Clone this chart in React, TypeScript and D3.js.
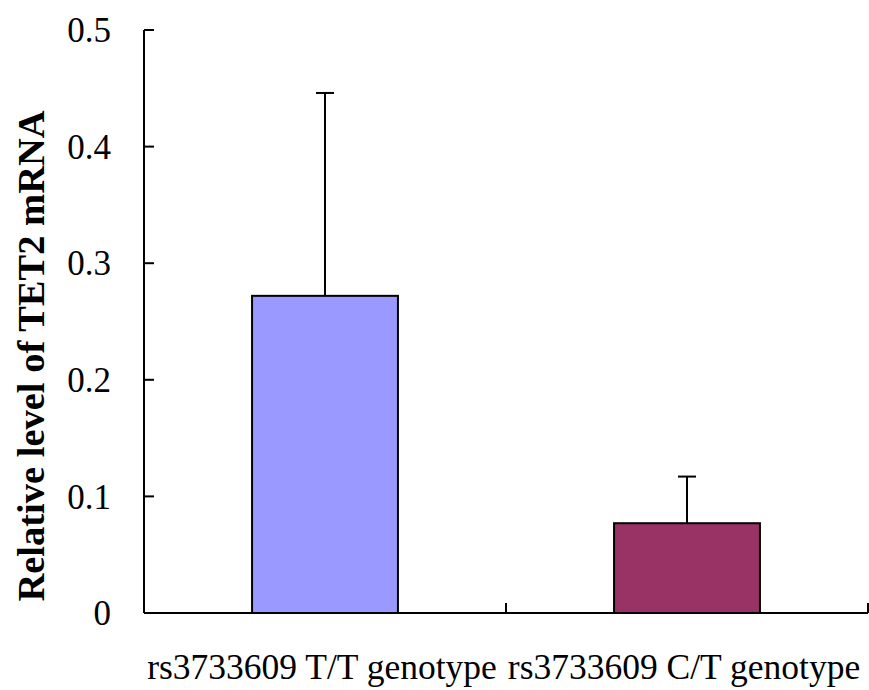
import React, { useEffect, useRef } from "react";
import * as d3 from "d3";

// genotype groups and measured means / upper error
const categories = ["rs3733609 T/T genotype", "rs3733609 C/T genotype"];
const means = [0.272, 0.077];
const errors = [0.174, 0.040];
const colors = ["#9999FF", "#993366"];
const yTicks = [0, 0.1, 0.2, 0.3, 0.4, 0.5];

export default function App() {
  const svgRef = useRef<SVGSVGElement>(null);
  const width = 869;
  const height = 690;

  useEffect(() => {
    const svg = d3.select(svgRef.current);
    svg.selectAll("*").remove();

    const left = 144, right = 868, top = 30, bottom = 613;
    const x = d3.scaleBand().domain(categories).range([left, right]).padding(0);
    const y = d3.scaleLinear().domain([0, 0.5]).range([bottom, top]);
    const barW = x.bandwidth() * 0.403;
    const font = "'Liberation Serif', 'Times New Roman', serif";

    const g = svg.append("g");

    // bars
    categories.forEach((c, i) => {
      const cx = x(c)! + x.bandwidth() / 2;
      // error bar (upper only)
      g.append("line")
        .attr("x1", cx).attr("x2", cx)
        .attr("y1", y(means[i])).attr("y2", y(means[i] + errors[i]))
        .attr("stroke", "#000").attr("stroke-width", 2);
      g.append("line")
        .attr("x1", cx - 9).attr("x2", cx + 9)
        .attr("y1", y(means[i] + errors[i])).attr("y2", y(means[i] + errors[i]))
        .attr("stroke", "#000").attr("stroke-width", 2);
      g.append("rect")
        .attr("x", cx - barW / 2)
        .attr("y", y(means[i]))
        .attr("width", barW)
        .attr("height", y(0) - y(means[i]))
        .attr("fill", colors[i])
        .attr("stroke", "#000")
        .attr("stroke-width", 2);
    });

    // y axis
    g.append("line")
      .attr("x1", left).attr("x2", left)
      .attr("y1", top).attr("y2", bottom)
      .attr("stroke", "#000").attr("stroke-width", 2);
    yTicks.forEach(t => {
      g.append("line")
        .attr("x1", left).attr("x2", left + 10)
        .attr("y1", y(t)).attr("y2", y(t))
        .attr("stroke", "#000").attr("stroke-width", 2);
      g.append("text")
        .attr("x", 111).attr("y", y(t))
        .attr("dy", "0.35em")
        .attr("text-anchor", "end")
        .style("font-family", font)
        .style("font-size", "35px")
        .text(t === 0 ? "0" : d3.format(".1f")(t));
    });

    // x axis
    g.append("line")
      .attr("x1", left).attr("x2", right)
      .attr("y1", bottom).attr("y2", bottom)
      .attr("stroke", "#000").attr("stroke-width", 2);
    [x(categories[1])!, right].forEach(px => {
      g.append("line")
        .attr("x1", px).attr("x2", px)
        .attr("y1", bottom).attr("y2", bottom - 10)
        .attr("stroke", "#000").attr("stroke-width", 2);
    });
    categories.forEach(c => {
      g.append("text")
        .attr("x", x(c)! + x.bandwidth() / 2 - 3)
        .attr("y", 679)
        .attr("text-anchor", "middle")
        .style("font-family", font)
        .style("font-size", "35.5px")
        .text(c);
    });

    // y title
    g.append("text")
      .attr("transform", `translate(44,356) rotate(-90)`)
      .attr("text-anchor", "middle")
      .style("font-family", font)
      .style("font-size", "38.5px")
      .style("font-weight", "bold")
      .text("Relative level of TET2 mRNA");
  }, []);

  return (
    <svg ref={svgRef} width={width} height={height}
      style={{ position: "absolute", left: 0, top: 0, background: "#fff" }} />
  );
}
